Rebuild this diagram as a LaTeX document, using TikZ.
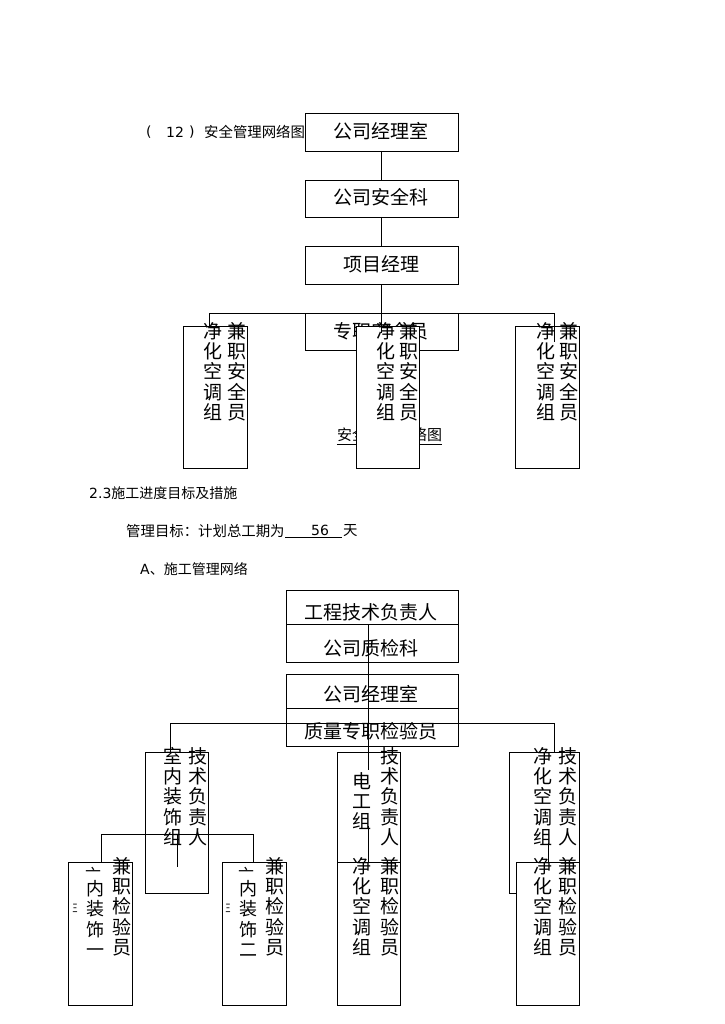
\documentclass[tikz,border=0pt]{standalone}
\usepackage{fontspec}
\setmainfont{DejaVu Sans}
\newfontfamily\cjk{Noto Sans CJK SC}
\begin{document}
\begin{tikzpicture}[x=1pt,y=-1pt,
  bx/.style={draw=black,fill=white,line width=0.8pt,inner sep=0pt,outer sep=0pt},
  ln/.style={draw=black,line width=0.8pt},
  hz/.style={font=\cjk\fontsize{19}{20}\selectfont,inner sep=0pt},
  vt/.style={font=\cjk\fontsize{19}{20.3}\selectfont,align=center,anchor=north,inner sep=0pt},
  vs/.style={font=\cjk\fontsize{18}{20.5}\selectfont,align=center,anchor=north,inner sep=0pt},
  sm/.style={font=\fontsize{14}{16}\selectfont,inner sep=0pt,anchor=west},
  smc/.style={font=\cjk\fontsize{14.4}{16}\selectfont,inner sep=0pt,anchor=west}]
\useasboundingbox (0,0) rectangle (724,1024);
\fill[white] (0,0) rectangle (724,1024);

% ---------- header ----------
\node[sm] (h1) at (146,132) {(};
\node[sm] (h2) at (166,132) {12};
\node[sm] (h3) at (189,132) {)};
\node[smc] (h4) at (204,132) {安全管理网络图};

% ---------- top chart ----------
\node[bx,minimum width=153,minimum height=38] (t1) at (381.5,132) {};
\node[hz] (t1t) at (381,131) {公司经理室};
\node[bx,minimum width=153,minimum height=37] (t2) at (381.5,198.5) {};
\node[hz] (t2t) at (381,197.5) {公司安全科};
\node[bx,minimum width=153,minimum height=38] (t3) at (381.5,265) {};
\node[hz] (t3t) at (381,264) {项目经理};
\node[bx,minimum width=153,minimum height=37] (t4) at (381.5,331.5) {};
\node[hz] (t4t) at (381,331) {专职安全员};

\node[smc,anchor=center,font=\cjk\fontsize{15}{16}\selectfont] (cap1) at (389.5,435) {安全管理网络图};
\draw[ln] (cap1.south west) ++(0,2) coordinate (u1) -- (cap1.south east |- u1);

\node[bx,minimum width=64,minimum height=142] (L) at (215,397) {};
\node[vt] (Lc1) at (213,322) {净\\化\\空\\调\\组};
\node[vt] (Lc2) at (237,322) {兼\\职\\安\\全\\员};
\node[bx,minimum width=63,minimum height=142] (M) at (387.5,397) {};
\node[vt] (Mc1) at (386,322) {净\\化\\空\\调\\组};
\node[vt] (Mc2) at (409,322) {兼\\职\\安\\全\\员};
\node[bx,minimum width=64,minimum height=142] (R) at (547,397) {};
\node[vt] (Rc1) at (546,322) {净\\化\\空\\调\\组};
\node[vt] (Rc2) at (569,322) {兼\\职\\安\\全\\员};

\coordinate (hL) at (209,313);
\coordinate (hR) at (554,313);
\coordinate (cEnd) at (381,333);
\coordinate (rEnd) at (554,342);
\draw[ln] (t1.south -| cEnd) -- (t2.north -| cEnd);
\draw[ln] (t2.south -| cEnd) -- (t3.north -| cEnd);
\draw[ln] (t3.south -| cEnd) -- (cEnd);
\draw[ln] (hL) -- (hR);
\draw[ln] (hL) -- (hL |- L.north);
\draw[ln] (hR) -- (rEnd);

% ---------- text block ----------
\node[sm] (s1) at (89,493) {2.3{\cjk 施工进度目标及措施}};
\node[smc] (s2) at (126,531) {管理目标：计划总工期为};
\node[sm,anchor=center] (s2n) at (320,530) {56};
\draw[ln] (285,537) coordinate (ua) -- (342,537) coordinate (ub);
\node[smc] (s2d) at (343,531) {天};
\node[sm] (s3) at (140,569) {A{\cjk 、施工管理网络}};

% ---------- bottom chart ----------
\node[bx,minimum width=172,minimum height=34] (b1) at (372,607) {};
\node[hz] (b1t) at (370.5,612) {工程技术负责人};
\node[bx,minimum width=172,minimum height=38] (b2) at (372,643) {};
\node[hz] (b2t) at (370.5,648.5) {公司质检科};
\node[bx,minimum width=172,minimum height=34] (b3) at (372,691) {};
\node[hz] (b3t) at (370.5,694) {公司经理室};
\node[bx,minimum width=172,minimum height=38] (b4) at (372,727) {};
\node[hz] (b4t) at (371,731.5) {质量专职检验员};

% top row of tall boxes
\node[bx,minimum width=63,minimum height=141] (A1) at (176.5,822.5) {};
\node[vt] (A1c1) at (173,747) {室\\内\\装\\饰\\组};
\node[vt] (A1c2) at (198,747) {技\\术\\负\\责\\人};

\node[bx,minimum width=63,minimum height=141] (B1) at (368.5,822.5) {};
\node[vt] (B1c2) at (390,747) {技\\术\\负\\责\\人};

\node[bx,minimum width=70,minimum height=141] (C1) at (544,822.5) {};
\node[vt] (C1c1) at (543,747) {净\\化\\空\\调\\组};
\node[vt] (C1c2) at (568,747) {技\\术\\负\\责\\人};

% bottom row
\node[bx,minimum width=64,minimum height=143] (D1) at (100,933.5) {};
\node[font=\cjk\fontsize{14}{16}\selectfont,inner sep=0pt] (D1a) at (75,908) {\scalebox{0.35}[0.8]{三}};
\node[font=\cjk\fontsize{16}{16}\selectfont,inner sep=0pt] (D1b) at (93,874) {亠};
\node[vs] (D1c1) at (95,880) {内\\装\\饰\\一};
\node[vt] (D1c2) at (122,857) {兼\\职\\检\\验\\员};

\node[bx,minimum width=64,minimum height=143] (D2) at (254,933.5) {};
\node[font=\cjk\fontsize{14}{16}\selectfont,inner sep=0pt] (D2a) at (228,908) {\scalebox{0.35}[0.8]{三}};
\node[font=\cjk\fontsize{16}{16}\selectfont,inner sep=0pt] (D2b) at (246,874) {亠};
\node[vs] (D2c1) at (248,880) {内\\装\\饰\\二};
\node[vt] (D2c2) at (275,857) {兼\\职\\检\\验\\员};

\node[bx,minimum width=63,minimum height=143] (B2) at (368.5,933.5) {};
\node[vt] (B2c1) at (362,857) {净\\化\\空\\调\\组};
\node[vt] (B2c2) at (390,857) {兼\\职\\检\\验\\员};

\node[bx,minimum width=63,minimum height=143] (C2) at (547.5,933.5) {};
\node[vt] (C2c1) at (543,857) {净\\化\\空\\调\\组};
\node[vt] (C2c2) at (568,857) {兼\\职\\检\\验\\员};

% connectors
\coordinate (vTop) at (368,624);
\coordinate (vMid1) at (368,770);
\coordinate (vMid2) at (368,826);
\coordinate (hbL) at (170,723);
\coordinate (hbR) at (554,723);
\draw[ln] (vTop) -- (vMid1);
\draw[ln] (vMid2) -- (vMid2 |- B2.north);
\draw[ln] (hbL) -- (hbR);
\draw[ln] (hbL) -- (hbL |- A1.north);
\draw[ln] (hbR) -- (hbR |- C1.north);
\coordinate (sL) at (101,834);
\coordinate (sR) at (253,834);
\draw[ln] (sL) -- (sR);
\draw[ln] (sL) -- (sL |- D1.north);
\draw[ln] (sR) -- (sR |- D2.north);
\draw[ln] (177,834) coordinate (sc) -- (177,867) coordinate (sd);
\draw[ln] (548,843) coordinate (rc) -- (rc |- C2.north);

\node[vt] (B1c1) at (362,772) {电\\工\\组};
\end{tikzpicture}
\end{document}
